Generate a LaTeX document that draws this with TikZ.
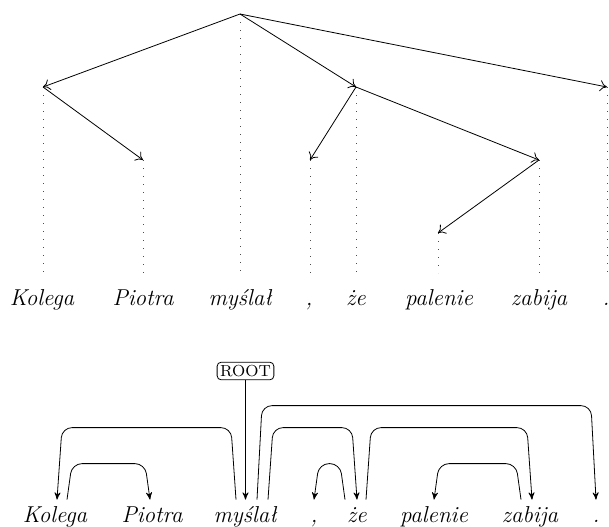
\documentclass[tikz,border=0pt]{standalone}
\usepackage{fontspec}
\usepackage{tikz}
\usetikzlibrary{arrows,arrows.meta,calc,positioning}
\tikzset{
>=stealth',
  word/.style={
    anchor=base,
    font=\fontsize{11.5}{13}\selectfont\itshape,
    text height=8pt,
    text depth=2pt,
    inner sep=3pt},
  rootbox/.style={
    draw, rounded corners=2pt,
    inner sep=1.5pt,
    font=\footnotesize},
}

\begin{document}
\begin{tikzpicture}[
    x=0.5pt, y=-0.5pt,
    tree line/.style={thin, -{To[length=3.5pt,width=5.5pt]}},
    dotted line/.style={black!70, dash pattern=on 0.4pt off 3.6pt},
    dep arc/.style={thin, ->, rounded corners=5pt},
    every node/.style={color=black}
    ]
    \useasboundingbox (0,0) rectangle (609,526);

    % tree
    \coordinate (t-myslal) at (240,14);
    \coordinate (t-kolega) at (43,87);
    \coordinate (t-ze) at (356,87);
    \coordinate (t-dot) at (607,87);
    \coordinate (t-piotra) at (143,160);
    \coordinate (t-comma) at (310,160);
    \coordinate (t-zabija) at (539,160);
    \coordinate (t-palenie) at (438,233);

    \node[word] (w-kolega) at (42,305) {Kolega};
    \node[word] (w-piotra) at (143,305) {Piotra};
    \node[word] (w-myslal) at (240,305) {myślał};
    \node[word] (w-comma) at (309,305) {,};
    \node[word] (w-ze) at (356,305) {że};
    \node[word] (w-palenie) at (439,305) {palenie};
    \node[word] (w-zabija) at (539,305) {zabija};
    \node[word] (w-dot) at (606,305) {.};

    \draw[dotted line] (t-myslal) -- (t-myslal |- 0,273);
    \draw[dotted line] (t-kolega) -- (t-kolega |- 0,273);
    \draw[dotted line] (t-ze) -- (t-ze |- 0,273);
    \draw[dotted line] (t-dot) -- (t-dot |- 0,273);
    \draw[dotted line] (t-piotra) -- (t-piotra |- 0,273);
    \draw[dotted line] (t-comma) -- (t-comma |- 0,273);
    \draw[dotted line] (t-zabija) -- (t-zabija |- 0,273);
    \draw[dotted line] (t-palenie) -- (t-palenie |- 0,273);

    \draw[tree line] (t-myslal) -- (t-kolega);
    \draw[tree line] (t-myslal) -- (t-ze);
    \draw[tree line] (t-myslal) -- (t-dot);
    \draw[tree line] (t-kolega) -- (t-piotra);
    \draw[tree line] (t-ze) -- (t-comma);
    \draw[tree line] (t-ze) -- (t-zabija);
    \draw[tree line] (t-zabija) -- (t-palenie);

    % dependencies
    \node[word] (b-kolega) at (55,522) {Kolega};
    \node[word] (b-piotra) at (152,522) {Piotra};
    \node[word] (b-myslal) at (245,522) {myślał};
    \node[word] (b-comma) at (314,522) {,};
    \node[word] (b-ze) at (357,522) {że};
    \node[word] (b-palenie) at (434,522) {palenie};
    \node[word] (b-zabija) at (530,522) {zabija};
    \node[word] (b-dot) at (596,522) {.};

    \node[rootbox] (root) at (245.5,371) {ROOT};
    \draw[thin, ->] (root.south) -- (root.south |- b-myslal.north);

    \draw[dep arc] ([xshift=-4.5pt]b-myslal.north) -- ++(-2.5pt,36pt)
         -- ([xshift=3.5pt,yshift=36pt]b-kolega.north) -- ([xshift=1pt]b-kolega.north);
    \draw[dep arc] ([xshift=6pt]b-kolega.north) -- ++(2.5pt,18pt)
         -- ([xshift=-3.5pt,yshift=18pt]b-piotra.north) -- ([xshift=-1pt]b-piotra.north);
    \draw[dep arc] ([xshift=6pt]b-myslal.north) -- ++(2.5pt,47pt)
         -- ([xshift=-2.5pt,yshift=47pt]b-dot.north) -- (b-dot.north);
    \draw[dep arc] ([xshift=11.5pt]b-myslal.north) -- ++(2.5pt,36pt)
         -- ([xshift=-2.5pt,yshift=36pt]b-ze.north) -- (b-ze.north);
    \draw[dep arc] ([xshift=-6pt]b-ze.north) -- ++(-2.5pt,18pt)
         -- ([xshift=2.5pt,yshift=18pt]b-comma.north) -- (b-comma.north);
    \draw[dep arc] ([xshift=4.5pt]b-ze.north) -- ++(2.5pt,36pt)
         -- ([xshift=-1.5pt,yshift=36pt]b-zabija.north) -- ([xshift=1pt]b-zabija.north);
    \draw[dep arc] ([xshift=-4.5pt]b-zabija.north) -- ++(-2.5pt,18pt)
         -- ([xshift=2.5pt,yshift=18pt]b-palenie.north) -- (b-palenie.north);

\end{tikzpicture}
\end{document}
